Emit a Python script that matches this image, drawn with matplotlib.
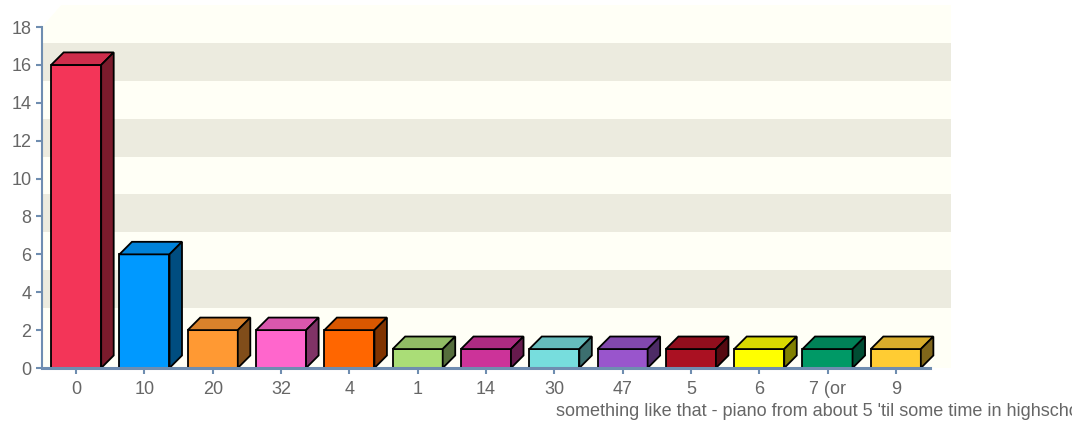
import matplotlib.pyplot as plt
from matplotlib.patches import Polygon
import numpy as np

# データ
labels = ['0', '10', '20', '32', '4', '1', '14', '30', '47', '5', '6',
          "7 (or\nsomething like that - piano from about 5 'til some time in highschool)", '9']
counts = [16, 6, 2, 2, 2, 1, 1, 1, 1, 1, 1, 1, 1]
front_colors = ['#f33558', '#0099ff', '#ff9933', '#ff66cc', '#ff6600', '#aadd77', '#cc3399',
                '#77dddd', '#9955cc', '#aa1122', '#ffff00', '#009966', '#ffcc33']
top_colors = ['#ce2d4b', '#0082d9', '#d9822b', '#d957ad', '#d95700', '#91bc65', '#ad2b82',
              '#65bcbc', '#8248ad', '#910e1d', '#d9d900', '#008257', '#d9ad2b']
side_colors = ['#7a1b2c', '#004d80', '#804d1a', '#803366', '#803300', '#556e3c', '#661a4d',
               '#3c6f6f', '#4d2b66', '#550911', '#808000', '#004d33', '#80661a']

W, H = 1072, 423
fig = plt.figure(figsize=(W / 100, H / 100), dpi=100, facecolor='white')
plt.rcParams['font.family'] = ['Liberation Sans', 'DejaVu Sans']

# 軸の位置 (ピクセル)
x0, x1, y0, y1 = 42, 951, 368, 5
ax = fig.add_axes([x0 / W, 1 - y0 / H, (x1 - x0) / W, (y0 - y1) / H])

n = len(counts)
pxx = 887 / n          # px per category
pxy = 340 / 18         # px per unit
dxw, dyw = 21 / pxx, 22 / pxy      # 奥の壁のずれ
dxb, dyb = 12.5 / pxx, 12.5 / pxy  # 棒の奥行き
w = 50 / pxx

ax.set_xlim(-0.5, n - 0.5 + dxw)
ax.set_ylim(0, 18 + dyw)

# 背景
ax.set_facecolor('#fffff6')
for lo in [2, 6, 10, 14]:
    ax.axhspan(lo + dyw, lo + 2 + dyw, color='#ecebdf', lw=0, zorder=0)
ax.add_patch(Polygon([(-0.5, 18), (-0.5, 18 + dyw + 0.1), (-0.5 + dxw, 18 + dyw + 0.1)],
                     closed=True, facecolor='white', lw=0, zorder=1))

x = np.arange(n)
bars = ax.bar(x, counts, width=w, color=front_colors, edgecolor='black', lw=1.3, zorder=3)
for b, tc, sc in zip(bars, top_colors, side_colors):
    l, r, v = b.get_x(), b.get_x() + b.get_width(), b.get_height()
    top = [(l, v), (r, v), (r + dxb, v + dyb), (l + dxb, v + dyb)]
    side = [(r, 0), (r + dxb, dyb), (r + dxb, v + dyb), (r, v)]
    ax.add_patch(Polygon(top, closed=True, facecolor=tc, edgecolor='black', lw=1.3, zorder=3))
    ax.add_patch(Polygon(side, closed=True, facecolor=sc, edgecolor='black', lw=1.3, zorder=3))

# 軸
axc = '#6f8db0'
for s in ['top', 'right']:
    ax.spines[s].set_visible(False)
ax.spines['left'].set_bounds(0, 18)
ax.spines['bottom'].set_bounds(-0.5, n - 0.5)
ax.spines['left'].set_color(axc)
ax.spines['bottom'].set_color(axc)
ax.spines['left'].set_linewidth(1.5)
ax.spines['bottom'].set_linewidth(2.2)
ax.spines['bottom'].set_zorder(4)

ax.set_yticks(np.arange(0, 19, 2))
ax.set_xticks(x, labels)
ax.tick_params(axis='y', colors=axc, labelcolor='#666666', length=4.5, width=1.5,
               pad=3, labelsize=13)
ax.tick_params(axis='x', colors=axc, labelcolor='#666666', length=4.5, width=1.5,
               pad=5, labelsize=13)
for t in ax.get_xticklabels():
    t.set_linespacing(1.35)

plt.savefig('out.png', dpi=100)
